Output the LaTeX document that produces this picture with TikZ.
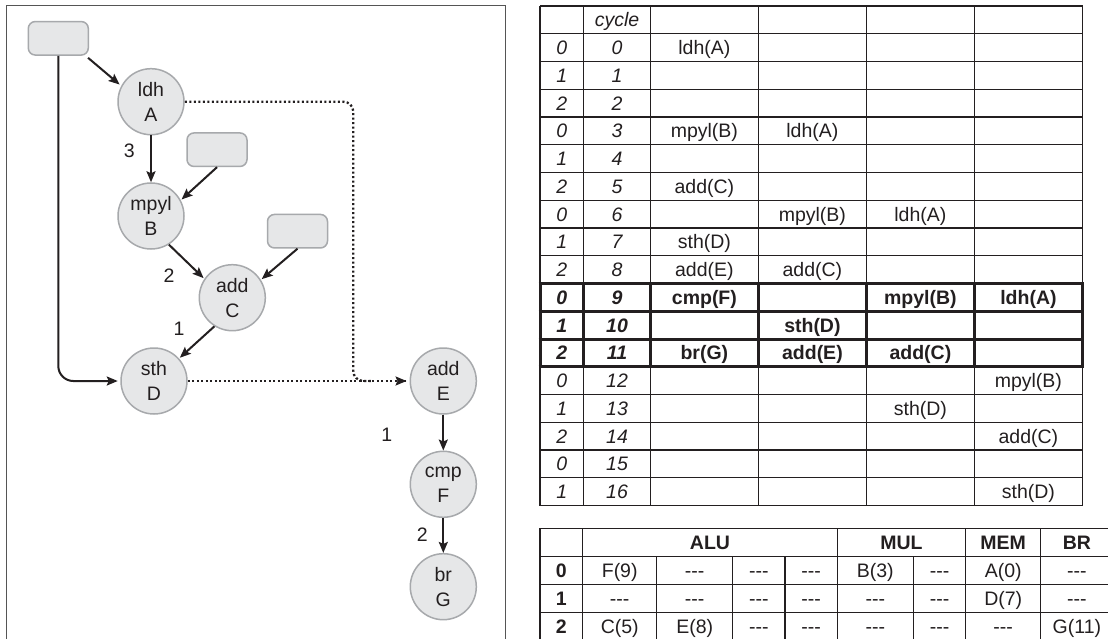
\documentclass[tikz,border=0pt]{standalone}
\usepackage{fontspec}
\setmainfont{Liberation Sans}
\usetikzlibrary{arrows.meta,calc}
\definecolor{ink}{HTML}{231F20}
\definecolor{gfill}{HTML}{E6E7E8}
\definecolor{gline}{HTML}{A7A9AC}
\definecolor{frame}{HTML}{555555}
\tikzset{
  opnode/.style={circle,minimum size=66pt,inner sep=0pt,fill=gfill,draw=gline,line width=1.5pt,
    align=center,font=\fontsize{19.5}{25}\selectfont,text=ink},
  srcbox/.style={rectangle,rounded corners=7pt,minimum width=60pt,minimum height=33.5pt,
    fill=gfill,draw=gline,line width=1.5pt},
  edge/.style={draw=ink,line width=2pt,-{Stealth[length=11pt,width=9pt,inset=2pt]}},
  dotedge/.style={draw=ink,line width=2.3pt,dash pattern=on 2.2pt off 2.3pt},
  lat/.style={font=\fontsize{19.5}{24}\selectfont,text=ink,inner sep=0pt},
  cell/.style={anchor=base,inner sep=0pt,font=\fontsize{19.5}{24}\selectfont,text=ink},
  it/.style={font=\fontsize{19.5}{24}\selectfont\itshape},
  bf/.style={font=\fontsize{19.5}{24}\selectfont\bfseries},
  bfit/.style={font=\fontsize{19.5}{24}\selectfont\bfseries\itshape},
  thin/.style={draw=ink,line width=1.3pt},
  thick/.style={draw=ink,line width=3pt},
}
\def\tcx{{561.75,617,704.4,812.4,920.4,1028.4}}
\def\bcx{{561.35,619.7,694.7,758.85,811.15,875.3,939.5,1003.2,1076.9}}
\def\bcy{{542.5,570.5,598.3,626.3}}
\newcommand\tcell[4][]{\node[cell,#1] (t#2c#3) at ({\tcx[#3]},{6+27.75*(#2+1.5)+7}) {#4};}
\newcommand\bcell[4][]{\node[cell,#1] (b#2c#3) at ({\bcx[#3]},{\bcy[#2]+7}) {#4};}
\newcommand\dsh{{-}{-}{-}}
\begin{document}
\begin{tikzpicture}[x=1pt,y=-1pt]
\useasboundingbox (0,0) rectangle (1108,639);
\clip (0,0) rectangle (1108,639);
\fill[white] (0,0) rectangle (1108,639);
% frame
\draw[frame,line width=1.5pt] (6.5,5.5) rectangle (505.7,700);
% graph nodes
\node[srcbox] (r1) at (58.3,38.3) {};
\node[srcbox] (r2) at (217,149.7) {};
\node[srcbox] (r3) at (297.5,231.2) {};
\node[opnode] (A) at (151,101.7) {ldh\\A};
\node[opnode] (B) at (151,216) {mpyl\\B};
\node[opnode] (C) at (232.3,297.7) {add\\C};
\node[opnode] (D) at (154,381) {sth\\D};
\node[opnode] (E) at (443.3,381) {add\\E};
\node[opnode] (F) at (443.3,484.3) {cmp\\F};
\node[opnode] (G) at (443.3,586.7) {br\\G};
\coordinate (k) at (353.3,250);
\coordinate (m) at (372,381);
% edges
\draw[edge,shorten >=2pt] ([shift={(-1pt,-2pt)}]r1.south east) -- (A.152);
\draw[edge] (A) -- (B);
\draw[edge,shorten >=1pt] (r2.south) -- (B.28);
\draw[edge,shorten >=1pt] (B.-58) -- (C.146);
\draw[edge,shorten >=1pt] (r3.south) -- (C.32);
\draw[edge,shorten >=1pt] (C.-122) -- (D.42);
\draw[edge,rounded corners=15pt,shorten >=2.5pt] (r1.south) |- (D.west);
\draw[dotedge,rounded corners=10pt] (A.east) -| (k) |- (m);
\draw[dotedge,shorten >=3pt] (D.east) -- (E.west);
\draw[ink,-{Stealth[length=11pt,width=9pt,inset=2pt]},line width=2pt,shorten >=3pt] ($(E.west)+(-12,0)$) coordinate (e0) -- (E.west);
\draw[edge] (E) -- (F);
\draw[edge] (F) -- (G);
% latency labels
\node[lat] (l3) at (129.3,151) {3};
\node[lat] (l2) at (169,276) {2};
\node[lat] (l1) at (179,328.3) {1};
\node[lat] (l1b) at (386.7,435) {1};
\node[lat] (l2b) at (422.3,535) {2};
% ---------- top table grid
\foreach \i in {0,...,18} {\draw[thin] (540,{6+27.75*\i}) -- (1082.5,{6+27.75*\i});}
\foreach \x in {540,583.5,650.5,758.3,866.5,974.3,1082.5} {\draw[thin] (\x,6) -- (\x,505.5);}
\foreach \i in {10,11,12,13} {\draw[thick] (538.5,{6+27.75*\i}) -- (1084,{6+27.75*\i});}
\foreach \x in {540,583.5,650.5,758.3,866.5,974.3,1082.5} {\draw[thick] (\x,{6+27.75*10}) -- (\x,{6+27.75*13});}
% header
\tcell[it]{-1}{1}{cycle}
% row labels
\foreach \r/\p in {0/0,1/1,2/2,3/0,4/1,5/2,6/0,7/1,8/2,12/0,13/1,14/2,15/0,16/1} {
  \tcell[it]{\r}{0}{\p}
  \tcell[it]{\r}{1}{\r}
}
\foreach \r/\p in {9/0,10/1,11/2} {
  \tcell[bfit]{\r}{0}{\p}
  \tcell[bfit]{\r}{1}{\r}
}
\tcell{0}{2}{ldh(A)}
\tcell{3}{2}{mpyl(B)}
\tcell{3}{3}{ldh(A)}
\tcell{5}{2}{add(C)}
\tcell{6}{3}{mpyl(B)}
\tcell{6}{4}{ldh(A)}
\tcell{7}{2}{sth(D)}
\tcell{8}{2}{add(E)}
\tcell{8}{3}{add(C)}
\tcell[bf]{9}{2}{cmp(F)}
\tcell[bf]{9}{4}{mpyl(B)}
\tcell[bf]{9}{5}{ldh(A)}
\tcell[bf]{10}{3}{sth(D)}
\tcell[bf]{11}{2}{br(G)}
\tcell[bf]{11}{3}{add(E)}
\tcell[bf]{11}{4}{add(C)}
\tcell{12}{5}{mpyl(B)}
\tcell{13}{4}{sth(D)}
\tcell{14}{5}{add(C)}
\tcell{16}{5}{sth(D)}
% ---------- bottom table grid
\foreach \y in {528.3,556.7,584.3,612.3,640.3} {\draw[thin] (540,\y) -- (1113,\y);}
\foreach \x in {540,582.7,837.3,965.7,1040.7,1113} {\draw[thin] (\x,528.3) -- (\x,640.3);}
\foreach \x in {656.7,732.7,785,913.3} {\draw[thin] (\x,556.7) -- (\x,640.3);}
\node[cell,bf] (hALU) at (710,549.5) {ALU};
\node[cell,bf] (hMUL) at (901.5,549.5) {MUL};
\node[cell,bf] (hMEM) at (1003.2,549.5) {MEM};
\node[cell,bf] (hBR) at (1076.9,549.5) {BR};
\bcell[bf]{1}{0}{0}
\bcell[bf]{2}{0}{1}
\bcell[bf]{3}{0}{2}
\bcell{1}{1}{F(9)}
\bcell{1}{2}{\dsh}
\bcell{1}{3}{\dsh}
\bcell{1}{4}{\dsh}
\bcell{1}{5}{B(3)}
\bcell{1}{6}{\dsh}
\bcell{1}{7}{A(0)}
\bcell{1}{8}{\dsh}
\bcell{2}{1}{\dsh}
\bcell{2}{2}{\dsh}
\bcell{2}{3}{\dsh}
\bcell{2}{4}{\dsh}
\bcell{2}{5}{\dsh}
\bcell{2}{6}{\dsh}
\bcell{2}{7}{D(7)}
\bcell{2}{8}{\dsh}
\bcell{3}{1}{C(5)}
\bcell{3}{2}{E(8)}
\bcell{3}{3}{\dsh}
\bcell{3}{4}{\dsh}
\bcell{3}{5}{\dsh}
\bcell{3}{6}{\dsh}
\bcell{3}{7}{\dsh}
\bcell{3}{8}{G(11)}
\end{tikzpicture}
\end{document}
